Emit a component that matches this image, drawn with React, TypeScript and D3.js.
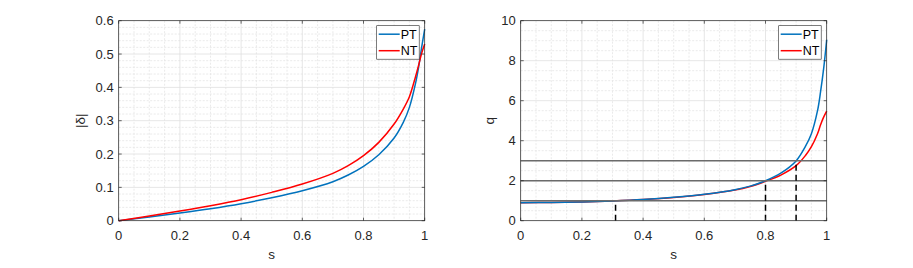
import * as d3 from 'd3';

// s samples shared by all series
const sVals = [0, 0.1, 0.2, 0.3, 0.4, 0.5, 0.6, 0.7, 0.75, 0.8, 0.85, 0.9, 0.93, 0.95, 0.97, 0.98, 0.99, 1];

// left panel: |delta|
const deltaPT = [0, 0.011, 0.023, 0.036, 0.051, 0.069, 0.09, 0.117, 0.137, 0.163, 0.198, 0.248, 0.295, 0.34, 0.412, 0.46, 0.52, 0.575];
const deltaNT = [0, 0.014, 0.029, 0.045, 0.063, 0.085, 0.11, 0.142, 0.165, 0.195, 0.235, 0.29, 0.335, 0.372, 0.432, 0.466, 0.502, 0.53];

// right panel: q
const qPT = [0.9, 0.91, 0.94, 0.99, 1.06, 1.17, 1.32, 1.55, 1.73, 2.0, 2.38, 2.99, 3.7, 4.35, 5.5, 6.45, 7.6, 9.05];
const qNT = [0.9, 0.91, 0.94, 0.99, 1.06, 1.16, 1.31, 1.53, 1.71, 1.97, 2.28, 2.75, 3.25, 3.7, 4.35, 4.8, 5.18, 5.48];

// reference levels and where q reaches them
const qLevels = [1, 2, 3];
const qCrossS = [0.31, 0.8, 0.9];

const xTicks = [0, 0.2, 0.4, 0.6, 0.8, 1];
const deltaTicks = [0, 0.1, 0.2, 0.3, 0.4, 0.5, 0.6];
const qTicks = [0, 2, 4, 6, 8, 10];

const BLUE = '#0072BD';
const RED = '#FF0000';
const AX = '#262626';
const FONT = '"Liberation Sans", Arial, sans-serif';

type Series = { values: number[]; color: string; name: string };

type PanelProps = {
  left: number;
  yMax: number;
  yTicks: number[];
  yMinor: number;
  yLabel: string;
  yLabelOffset: number;
  series: Series[];
  drawOrder: number[];
  extras?: (x: d3.ScaleLinear<number, number>, y: d3.ScaleLinear<number, number>) => React.ReactNode;
};

const TOP = 20.7;
const BOTTOM = 220.7;
const W = 306;

function Panel({ left, yMax, yTicks, yMinor, yLabel, yLabelOffset, series, drawOrder, extras }: PanelProps) {
  const x = d3.scaleLinear().domain([0, 1]).range([left, left + W]);
  const y = d3.scaleLinear().domain([0, yMax]).range([BOTTOM, TOP]);
  const line = (vals: number[]) =>
    d3
      .line<number>()
      .x((_, i) => x(sVals[i]))
      .y((v) => y(v))
      .curve(d3.curveCatmullRom.alpha(0.5))(vals) ?? '';

  const xMinor = d3.range(0, 1.0001, 0.05).filter((v) => Math.abs(v / 0.2 - Math.round(v / 0.2)) > 1e-6);
  const yMinorVals = d3
    .range(0, yMax + 1e-9, yMinor)
    .filter((v) => !yTicks.some((t) => Math.abs(t - v) < 1e-9));

  const lx = left + W - 48;
  const ly = TOP + 5;

  return (
    <g fontFamily={FONT}>
      {/* minor grid */}
      {xMinor.map((v) => (
        <line key={'xm' + v} x1={x(v)} x2={x(v)} y1={TOP} y2={BOTTOM} stroke="#e4e4e4" strokeWidth={0.8} strokeDasharray="2 1.5" />
      ))}
      {yMinorVals.map((v) => (
        <line key={'ym' + v} x1={left} x2={left + W} y1={y(v)} y2={y(v)} stroke="#e4e4e4" strokeWidth={0.8} strokeDasharray="2 1.5" />
      ))}
      {/* major grid */}
      {xTicks.map((v) => (
        <line key={'xg' + v} x1={x(v)} x2={x(v)} y1={TOP} y2={BOTTOM} stroke="#e0e0e0" strokeWidth={0.8} />
      ))}
      {yTicks.map((v) => (
        <line key={'yg' + v} x1={left} x2={left + W} y1={y(v)} y2={y(v)} stroke="#e0e0e0" strokeWidth={0.8} />
      ))}

      {drawOrder.map((i) => (
        <path key={series[i].name} d={line(series[i].values)} fill="none" stroke={series[i].color} strokeWidth={1.5} />
      ))}

      {extras && extras(x, y)}

      {/* axes box + ticks */}
      <rect x={left} y={TOP} width={W} height={BOTTOM - TOP} fill="none" stroke={AX} strokeWidth={0.7} />
      {xTicks.map((v) => (
        <g key={'xt' + v}>
          <line x1={x(v)} x2={x(v)} y1={BOTTOM} y2={BOTTOM - 3} stroke={AX} strokeWidth={0.7} />
          <line x1={x(v)} x2={x(v)} y1={TOP} y2={TOP + 3} stroke={AX} strokeWidth={0.7} />
          <text x={x(v)} y={239.5} textAnchor="middle" fontSize={13} fill={AX}>
            {String(v)}
          </text>
        </g>
      ))}
      {yTicks.map((v) => (
        <g key={'yt' + v}>
          <line x1={left} x2={left + 3} y1={y(v)} y2={y(v)} stroke={AX} strokeWidth={0.7} />
          <line x1={left + W} x2={left + W - 3} y1={y(v)} y2={y(v)} stroke={AX} strokeWidth={0.7} />
          <text x={left - 5} y={y(v) + 4.6} textAnchor="end" fontSize={13} fill={AX}>
            {String(v)}
          </text>
        </g>
      ))}

      <text x={left + W / 2} y={258.5} textAnchor="middle" fontSize={13.5} fill={AX}>
        s
      </text>
      <text
        transform={`translate(${left - yLabelOffset},${(TOP + BOTTOM) / 2}) rotate(-90)`}
        textAnchor="middle"
        fontSize={13.5}
        fill={AX}
      >
        {yLabel}
      </text>

      {/* legend */}
      <rect x={lx} y={ly} width={42.5} height={33.5} fill="#fff" stroke={AX} strokeWidth={0.6} />
      {series.map((s, i) => (
        <g key={'lg' + s.name}>
          <line x1={lx + 2} x2={lx + 23} y1={ly + 8.5 + i * 16.5} y2={ly + 8.5 + i * 16.5} stroke={s.color} strokeWidth={1.5} />
          <text x={lx + 24} y={ly + 12.8 + i * 16.5} fontSize={12.5} fill="#000">
            {s.name}
          </text>
        </g>
      ))}
    </g>
  );
}

export default function App() {
  return (
    <div style={{ position: 'absolute', left: 0, top: 0 }}>
      <svg width={913} height={268} viewBox="0 0 913 268" style={{ display: 'block', background: '#fff' }}>
        <Panel
          left={118.7}
          yMax={0.6}
          yTicks={deltaTicks}
          yMinor={0.02}
          yLabel="|δ|"
          yLabelOffset={34}
          series={[
            { values: deltaPT, color: BLUE, name: 'PT' },
            { values: deltaNT, color: RED, name: 'NT' },
          ]}
          drawOrder={[0, 1]}
        />
        <Panel
          left={520.7}
          yMax={10}
          yTicks={qTicks}
          yMinor={0.5}
          yLabel="q"
          yLabelOffset={27}
          series={[
            { values: qPT, color: BLUE, name: 'PT' },
            { values: qNT, color: RED, name: 'NT' },
          ]}
          drawOrder={[1, 0]}
          extras={(x, y) => (
            <g>
              {qLevels.map((q) => (
                <line key={'h' + q} x1={x(0)} x2={x(1)} y1={y(q)} y2={y(q)} stroke="#6b6b6b" strokeWidth={1.5} />
              ))}
              {qCrossS.map((s, i) => (
                <line
                  key={'v' + s}
                  x1={x(s)}
                  x2={x(s)}
                  y1={y(0)}
                  y2={y(qLevels[i])}
                  stroke="#000"
                  strokeWidth={1.5}
                  strokeDasharray="6 4"
                />
              ))}
            </g>
          )}
        />
      </svg>
    </div>
  );
}
